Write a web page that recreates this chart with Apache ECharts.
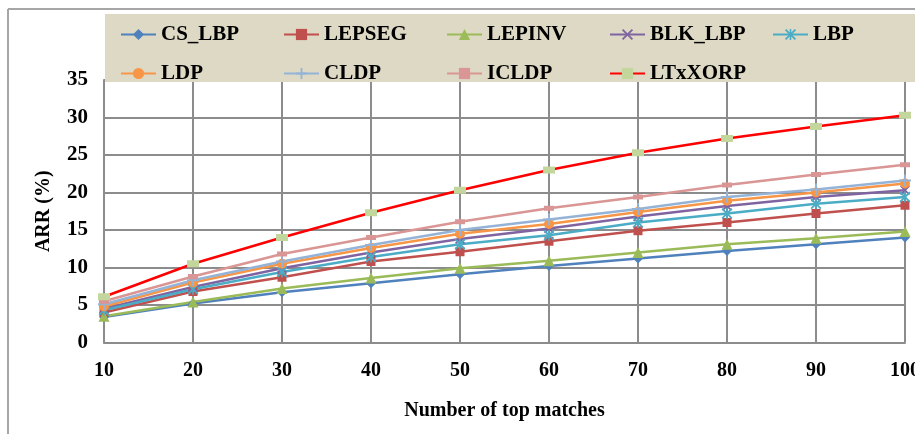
<!DOCTYPE html>
<html>
<head>
<meta charset="utf-8">
<script src="https://cdn.jsdelivr.net/npm/echarts@6/dist/echarts.min.js"></script>
<style>html,body{margin:0;padding:0;background:#fff;}#c{width:915px;height:434px;}</style>
</head>
<body>
<div id="c"></div>
<script>
var categories = ['10','20','30','40','50','60','70','80','90','100'];
var yTicks = [0,5,10,15,20,25,30,35];
var CS_LBP  = [3.4, 5.2, 6.7, 7.9, 9.1, 10.2, 11.2, 12.2, 13.1, 14.0];
var LEPSEG  = [4.0, 6.8, 8.7, 10.8, 12.1, 13.5, 14.9, 16.0, 17.2, 18.3];
var LEPINV  = [3.5, 5.4, 7.2, 8.6, 9.9, 10.9, 12.0, 13.1, 13.9, 14.8];
var BLK_LBP = [4.5, 7.4, 9.9, 12.0, 13.8, 15.2, 16.8, 18.2, 19.4, 20.3];
var LBP     = [4.3, 7.1, 9.4, 11.4, 13.1, 14.3, 16.0, 17.2, 18.5, 19.4];
var LDP     = [4.8, 8.0, 10.5, 12.6, 14.5, 15.8, 17.4, 18.9, 20.0, 21.2];
var CLDP    = [5.1, 8.3, 10.8, 13.0, 15.0, 16.4, 17.8, 19.4, 20.4, 21.6];
var ICLDP   = [5.5, 8.8, 11.8, 14.0, 16.1, 17.9, 19.4, 21.0, 22.4, 23.7];
var LTxXORP = [6.1, 10.5, 14.0, 17.3, 20.3, 23.0, 25.3, 27.2, 28.8, 30.3];

var F = 'Liberation Serif';
var xPath = 'path://M1.2,0L5,3.8L8.8,0L10,1.2L6.2,5L10,8.8L8.8,10L5,6.2L1.2,10L0,8.8L3.8,5L0,1.2Z';
var astPath = 'path://M1.2,0L5,3.8L8.8,0L10,1.2L6.2,5L10,8.8L8.8,10L5,6.2L1.2,10L0,8.8L3.8,5L0,1.2Z M4.3,0H5.7V10H4.3Z';
var plusPath = 'path://M4.2,0H5.8V4.2H10V5.8H5.8V10H4.2V5.8H0V4.2H4.2Z';

function mk(name, data, color, symbol, size, symColor) {
  return {
    name: name, type: 'line', data: data,
    symbol: symbol, symbolSize: size,
    lineStyle: { color: color, width: 2.5 },
    itemStyle: { color: symColor || color },
    emphasis: { disabled: true },
    animation: false
  };
}

var series = [
  mk('CS_LBP', CS_LBP, '#4F81BD', 'diamond', 10),
  mk('LEPSEG', LEPSEG, '#C0504D', 'rect', 9),
  mk('LEPINV', LEPINV, '#9BBB59', 'triangle', 11),
  mk('BLK_LBP', BLK_LBP, '#8064A2', xPath, 10),
  mk('LBP', LBP, '#4BACC6', astPath, 11),
  mk('LDP', LDP, '#F79646', 'circle', 10),
  mk('CLDP', CLDP, '#95B3D7', plusPath, 12),
  mk('ICLDP', ICLDP, '#D99694', 'rect', [10, 5]),
  mk('LTxXORP', LTxXORP, '#FF0000', 'rect', [12, 7], '#C3D69B')
];

var chart = echarts.init(document.getElementById('c'));
chart.setOption({
  backgroundColor: '#ffffff',
  animation: false,
  graphic: [
    { type: 'line', z: 1, shape: { x1: 8, y1: 9, x2: 915, y2: 9 }, style: { stroke: '#A6A6A6', lineWidth: 2 } },
    { type: 'line', z: 1, shape: { x1: 8, y1: 9, x2: 8, y2: 434 }, style: { stroke: '#A6A6A6', lineWidth: 2 } },
    { type: 'rect', z: 1, shape: { x: 105, y: 14, width: 810, height: 68 }, style: { fill: '#DDD9C4' } }
  ],
  legend: {
    left: 120, top: 24, width: 800, padding: 0,
    itemWidth: 35, itemHeight: 14, itemGap: 18,
    textStyle: { fontFamily: F, fontWeight: 'bold', fontSize: 21, color: '#000', width: 104, lineHeight: 17 },
    data: ['CS_LBP','LEPSEG','LEPINV','BLK_LBP','LBP','LDP','CLDP','ICLDP','LTxXORP']
  },
  grid: { left: 104, right: 10, top: 80, bottom: 91.5, containLabel: false, outerBoundsMode: 'none' },
  xAxis: {
    type: 'category', data: categories, boundaryGap: false,
    name: 'Number of top matches', nameLocation: 'middle', nameGap: 58,
    nameTextStyle: { fontFamily: F, fontWeight: 'bold', fontSize: 20, color: '#000' },
    axisLine: { lineStyle: { color: '#8C8C8C', width: 2 } },
    axisTick: { show: false },
    axisLabel: { fontFamily: F, fontWeight: 'bold', fontSize: 20, color: '#000', margin: 18 },
    splitLine: { show: true, lineStyle: { color: '#8C8C8C', width: 2 } }
  },
  yAxis: {
    type: 'value', min: 0, max: 35, interval: 5,
    name: 'ARR (%)', nameLocation: 'middle', nameGap: 50, nameRotate: 90,
    nameTextStyle: { fontFamily: F, fontWeight: 'bold', fontSize: 20, color: '#000' },
    axisLine: { show: true, lineStyle: { color: '#8C8C8C', width: 2 } },
    axisTick: { show: false },
    axisLabel: { fontFamily: F, fontWeight: 'bold', fontSize: 21, color: '#000', margin: 16,
      formatter: function (v) { return yTicks.indexOf(v) >= 0 ? String(v) : ''; } },
    splitLine: { show: true, lineStyle: { color: '#8C8C8C', width: 2 } }
  },
  series: series
});
</script>
</body>
</html>
